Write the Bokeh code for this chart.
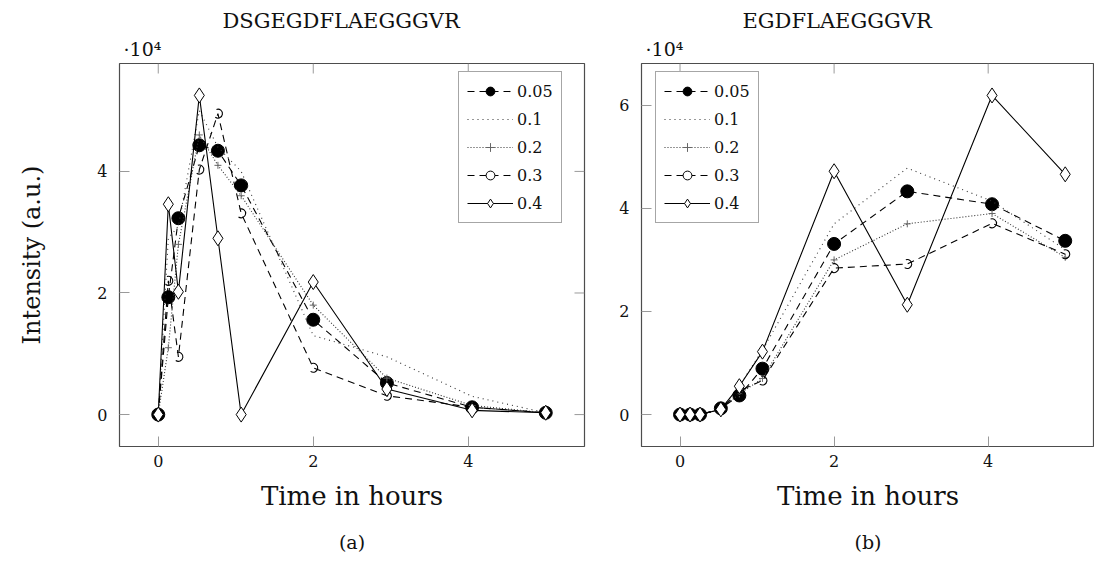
import math
from bokeh.plotting import figure
from bokeh.layouts import row
from bokeh.models import (Range1d, FixedTicker, Legend, LegendItem, Title)
from bokeh.embed import file_html
from bokeh.resources import INLINE

# ---------------- data (intensity in units of 1e4) ----------------
times = [0, 0.13, 0.26, 0.53, 0.77, 1.07, 2.0, 2.95, 4.05, 5.0]
series_names = ["0.05", "0.1", "0.2", "0.3", "0.4"]

left_title = "DSGEGDFLAEGGGVR"
left_005 = [0, 1.93, 3.23, 4.43, 4.34, 3.77, 1.56, 0.52, 0.12, 0.03]
left_01 = [0, 2.9, 3.1, 5.0, 4.4, 4.0, 1.3, 0.95, 0.3, 0.03]
left_02 = [0, 1.1, 2.8, 4.6, 4.1, 3.6, 1.8, 0.6, 0.15, 0.03]
left_03 = [0, 2.2, 0.95, 4.03, 4.95, 3.31, 0.77, 0.31, 0.12, 0.03]
left_04 = [0, 3.46, 2.02, 5.25, 2.9, 0.0, 2.18, 0.42, 0.07, 0.03]

right_title = "EGDFLAEGGGVR"
right_005 = [0, 0, 0, 0.12, 0.37, 0.89, 3.31, 4.33, 4.08, 3.37]
right_01 = [0, 0, 0, 0.1, 0.55, 1.25, 3.7, 4.78, 4.14, 3.2]
right_02 = [0, 0, 0, 0.1, 0.4, 0.7, 3.0, 3.7, 3.9, 3.05]
right_03 = [0, 0, 0, 0.1, 0.46, 0.66, 2.84, 2.92, 3.71, 3.11]
right_04 = [0, 0, 0, 0.1, 0.55, 1.22, 4.72, 2.13, 6.19, 4.66]

x_ticks = [0, 2, 4]
left_y_ticks = [0, 2, 4]
right_y_ticks = [0, 2, 4, 6]
x_label = "Time in hours"
y_label = "Intensity (a.u.)"
scale_label = "\u00b710\u2074"

FONT = "DejaVu Serif"
FRAME = "#4d4d4d"
TICK = "#9a9a9a"


def style_axis(ax, ticks):
    ax.ticker = FixedTicker(ticks=ticks)
    ax.axis_line_color = None
    ax.major_tick_in = 10
    ax.major_tick_out = 0
    ax.minor_tick_in = 0
    ax.minor_tick_out = 0
    ax.major_tick_line_color = TICK
    ax.major_label_text_font = FONT
    ax.major_label_text_font_size = "16px"
    ax.major_label_text_color = "#111111"
    ax.axis_label_text_font = FONT
    ax.axis_label_text_font_style = "normal"
    ax.axis_label_text_color = "#111111"


def make_panel(values, x_end, y_rng, yticks, width, mbl, mbr, title, sub,
               title_offset, legend_loc, with_ylabel, right_ticks):
    p = figure(width=width, height=572, output_backend="svg", toolbar_location=None,
               x_range=Range1d(-0.5, x_end), y_range=Range1d(*y_rng),
               min_border_left=mbl, min_border_right=mbr, min_border_top=63,
               min_border_bottom=126, title=None)
    p.grid.visible = False
    p.outline_line_color = FRAME
    p.outline_line_width = 1.2
    p.background_fill_color = "white"
    p.border_fill_color = "white"

    style_axis(p.xaxis[0], x_ticks)
    style_axis(p.yaxis[0], yticks)
    p.xaxis[0].major_label_standoff = 8
    p.yaxis[0].major_label_standoff = 12
    p.xaxis[0].axis_label = x_label
    p.xaxis[0].axis_label_text_font_size = "26px"
    p.xaxis[0].axis_label_standoff = 11
    if with_ylabel:
        p.yaxis[0].axis_label = y_label
        p.yaxis[0].axis_label_text_font_size = "24px"
        p.yaxis[0].axis_label_standoff = 48

    # mirrored inward ticks on the top (and right) edges
    p.ray(x=x_ticks, y=[y_rng[1]] * len(x_ticks), length=10, length_units="screen",
          angle=-math.pi / 2, line_color=TICK, line_width=1)
    if right_ticks:
        p.ray(x=[x_end] * len(yticks), y=yticks, length=10, length_units="screen",
              angle=math.pi, line_color=TICK, line_width=1)

    sc = Title(text=scale_label, align="left", offset=4, text_font=FONT,
               text_font_size="19px", text_font_style="normal", text_color="#111111",
               standoff=7)
    p.add_layout(sc, "above")
    t = Title(text=title, align="left", offset=title_offset, text_font=FONT,
              text_font_size="21px", text_font_style="normal", text_color="#111111",
              standoff=0)
    p.add_layout(t, "above")
    s = Title(text=sub, align="center", text_font=FONT, text_font_size="19px",
              text_font_style="normal", text_color="#111111", standoff=30)
    p.add_layout(s, "below")

    v05, v01, v02, v03, v04 = values
    items = []
    # 0.05 : dashed with filled circles
    l = p.line(times, v05, line_color="black", line_width=1.1, line_dash="7 5")
    m = p.scatter(times, v05, marker="circle", size=13, fill_color="black",
                  line_color="black")
    items.append(LegendItem(label=series_names[0], renderers=[l, m]))
    # 0.1 : loosely dotted
    l = p.line(times, v01, line_color="#333333", line_width=1.1, line_dash="1 4")
    items.append(LegendItem(label=series_names[1], renderers=[l]))
    # 0.2 : dotted with small crosses
    l = p.line(times, v02, line_color="#333333", line_width=1.1, line_dash="1 2")
    m = p.scatter(times, v02, marker="cross", size=7, line_color="#666666",
                  line_width=1)
    items.append(LegendItem(label=series_names[2], renderers=[l, m]))
    # 0.3 : dashed with open curl marks
    l = p.line(times, v03, line_color="black", line_width=1.1, line_dash="7 5")
    p.arc(times, v03, radius=4.5, radius_units="screen", start_angle=-2.2,
          end_angle=1.9, line_color="black", line_width=1.1)
    mk = p.scatter([float("nan")], [float("nan")], marker="circle", size=8,
                   fill_color="white", line_color="black")
    items.append(LegendItem(label=series_names[3], renderers=[l, mk]))
    # 0.4 : solid with open diamonds
    l = p.line(times, v04, line_color="black", line_width=1.1)
    m = p.scatter(times, v04, marker="diamond", size=15, fill_color="white",
                  line_color="black", line_width=1)
    items.append(LegendItem(label=series_names[4], renderers=[l, m]))

    leg = Legend(items=items, location=legend_loc, orientation="vertical",
                 glyph_width=46, glyph_height=22, label_height=22, spacing=6,
                 padding=8, margin=0, label_standoff=4, label_text_font=FONT,
                 label_text_font_size="16px", label_text_color="#111111",
                 border_line_color=FRAME, border_line_width=1.2,
                 background_fill_color="white", background_fill_alpha=1)
    p.add_layout(leg, "center")
    return p


p1 = make_panel([left_005, left_01, left_02, left_03, left_04], 5.5, (-0.525, 5.775),
                left_y_ticks, 600, 119, 16, left_title, "(a)", 103, (339, 223),
                True, True)
p2 = make_panel([right_005, right_01, right_02, right_03, right_04], 5.38,
                (-0.62, 6.81), right_y_ticks, 494, 41, 0, right_title, "(b)", 101,
                (14, 223), False, False)

layout = row(p1, p2, spacing=0)
open("out.html", "w").write(file_html(layout, INLINE))
